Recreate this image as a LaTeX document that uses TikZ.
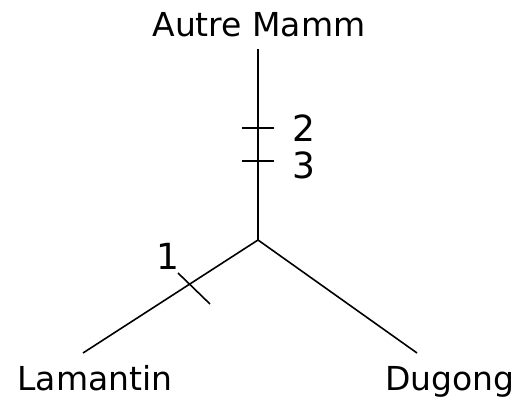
\documentclass[tikz,border=0pt]{standalone}
\usepackage{fontspec}
\setmainfont{DejaVu Sans}
\begin{document}
\begin{tikzpicture}[x=1pt,y=-1pt,
  lbl/.style={inner sep=0pt,anchor=base,font=\fontsize{33}{33}\selectfont},
  num/.style={inner sep=0pt,font=\fontsize{36}{36}\selectfont},
  br/.style={line width=1.6pt,black}]
\useasboundingbox (0,0) rectangle (515,398);
\node[lbl] (top) at (259,37) {Autre Mamm};
\node[lbl] (lam) at (95,391) {Lamantin};
\node[lbl] (dug) at (450,391) {Dugong};
\coordinate (t) at (258,49);
\coordinate (j) at (258,240);
\coordinate (l) at (83,353);
\coordinate (r) at (417,353);
\draw[br] (t) -- (j);
\draw[br] (j) -- (l);
\draw[br] (j) -- (r);
\coordinate (a1) at (242,128); \coordinate (a2) at (274,128);
\coordinate (b1) at (242,161); \coordinate (b2) at (274,161);
\coordinate (c1) at (178,273); \coordinate (c2) at (210,304);
\draw[br] (a1) -- (a2);
\draw[br] (b1) -- (b2);
\draw[br] (c1) -- (c2);
\node[num] (n2) at (304,128) {2};
\node[num] (n3) at (304,165) {3};
\node[num] (n1) at (168,256) {1};
\end{tikzpicture}
\end{document}
